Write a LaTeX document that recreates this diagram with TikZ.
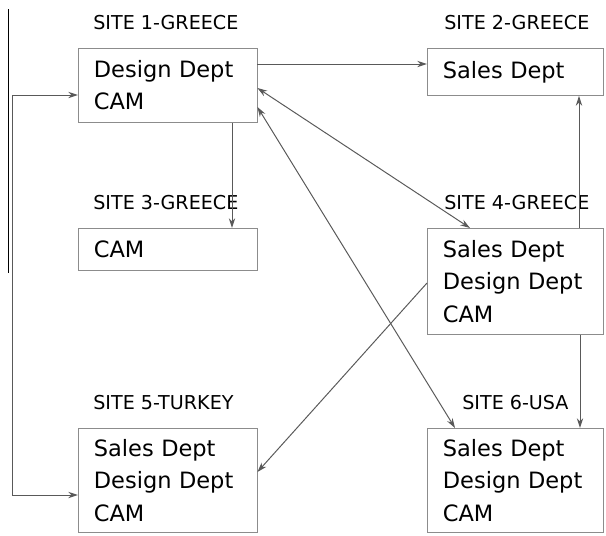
\documentclass[tikz,border=0pt]{standalone}
\usepackage{fontspec}
\setmainfont{DejaVu Sans}
\usetikzlibrary{arrows.meta,positioning,calc}

\begin{document}
\begin{tikzpicture}[
    x=0.025cm, y=-0.025cm,
    sitebox/.style={rectangle, draw=black!45, line width=0.6pt, anchor=north west, align=left, text width=105pt, inner xsep=11pt, inner ysep=0pt, font=\fontsize{16}{23}\selectfont},
    sitelabel/.style={anchor=base west, inner sep=0pt, font=\fontsize{13.6}{16}\selectfont},
    arrow/.style={-{Stealth[length=7pt,width=4.5pt]}, line width=0.7pt, black!65},
    dblarrow/.style={{Stealth[length=7pt,width=4.5pt]}-{Stealth[length=7pt,width=4.5pt]}, line width=0.7pt, black!65}
]
\useasboundingbox (0,0) rectangle (606,535);

% Sites
\node[sitebox, minimum height=1.85cm] (s1) at (78,48) {Design Dept\\CAM};
\node[sitebox, text width=103pt, minimum height=1.175cm] (s2) at (427,48) {Sales Dept};
\node[sitebox, minimum height=1.05cm] (s3) at (78,228) {CAM};
\node[sitebox, text width=103pt, minimum height=2.65cm] (s4) at (427,228) {Sales Dept\\Design Dept\\CAM};
\node[sitebox, minimum height=2.6cm] (s5) at (78,428) {Sales Dept\\Design Dept\\CAM};
\node[sitebox, text width=103pt, minimum height=2.6cm] (s6) at (427,428) {Sales Dept\\Design Dept\\CAM};

% Labels
\node[sitelabel] (l1) at ($(s1.north west)+(15,-19)$) {SITE 1-GREECE};
\node[sitelabel] (l2) at ($(s2.north west)+(17,-19)$) {SITE 2-GREECE};
\node[sitelabel] (l3) at ($(s3.north west)+(15,-19)$) {SITE 3-GREECE};
\node[sitelabel] (l4) at ($(s4.north west)+(17,-19)$) {SITE 4-GREECE};
\node[sitelabel] (l5) at ($(s5.north west)+(15,-19)$) {SITE 5-TURKEY};
\node[sitelabel] (l6) at ($(s6.north west)+(35,-19)$) {SITE 6-USA};

% Links
\draw[arrow] ($(s1.north east)+(0,16)$) -- ($(s2.north west)+(0,16)$);
\draw[arrow] ($(s1.south west)+(154,0)$) -- ($(s3.north west)+(154,0)$);
\draw[dblarrow] ($(s1.north east)+(0,40)$) -- ($(s4.north west)+(43,0)$);
\draw[dblarrow] ($(s1.north east)+(0,59)$) -- ($(s6.north west)+(28,0)$);
\draw[arrow] ($(s4.north west)+(0,55)$) -- ($(s5.north east)+(0,44)$);
\draw[arrow] ($(s4.north west)+(152,0)$) -- ($(s2.south west)+(152,0)$);
\draw[arrow] ($(s4.south west)+(153,0)$) -- ($(s6.north west)+(153,0)$);
\draw[dblarrow] ($(s5.north west)+(0,67)$) -- ++(-66,0) |- ($(s1.north west)+(0,47)$);

% Margin rule
\draw[black, line width=0.6pt] (8,9) -- (8,273);
\end{tikzpicture}
\end{document}
